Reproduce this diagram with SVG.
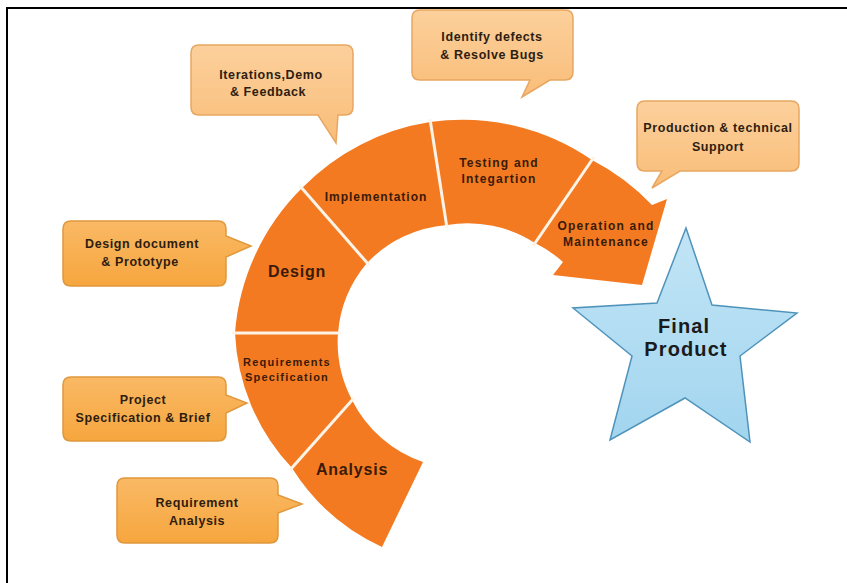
<svg xmlns="http://www.w3.org/2000/svg" width="847" height="583" viewBox="0 0 847 583">
<defs>
<linearGradient id="gLight" x1="0" y1="0" x2="0" y2="1">
<stop offset="0" stop-color="#fcd09c"/><stop offset="1" stop-color="#f9bd78"/>
</linearGradient>
<linearGradient id="gDark" x1="0" y1="0" x2="0" y2="1">
<stop offset="0" stop-color="#fab965"/><stop offset="1" stop-color="#f6a63e"/>
</linearGradient>
<linearGradient id="gStar" x1="0" y1="0" x2="0" y2="1">
<stop offset="0" stop-color="#c2e5f6"/><stop offset="1" stop-color="#a2d5ef"/>
</linearGradient>
<style>
.light{fill:url(#gLight);stroke:#e8a660;stroke-width:1.5}
.dark{fill:url(#gDark);stroke:#e0983c;stroke-width:1.5}
.seg{fill:#f37a21}
.div{stroke:#fdf3e6;stroke-width:3;fill:none}
.ct{font-family:"Liberation Sans",Arial,sans-serif;font-weight:bold;font-size:12.5px;letter-spacing:0.6px;fill:#2e1d10;text-anchor:middle}
.st{font-family:"Liberation Sans",Arial,sans-serif;font-weight:bold;font-size:12px;letter-spacing:1.2px;fill:#3a1a08;text-anchor:middle}
.sb{font-family:"Liberation Sans",Arial,sans-serif;font-weight:bold;font-size:16px;letter-spacing:0.8px;fill:#3a1a08;text-anchor:middle}
.fp{font-family:"Liberation Sans",Arial,sans-serif;font-weight:bold;font-size:20px;letter-spacing:1.1px;fill:#1a1a1a;text-anchor:middle}
</style>
</defs>
<rect width="847" height="583" fill="#ffffff"/>
<g id="frame">
<line x1="6" y1="8" x2="847" y2="8" stroke="#000" stroke-width="2"/>
<line x1="7" y1="8" x2="7" y2="583" stroke="#000" stroke-width="2"/>
</g>

<g id="analysis">
<path class="seg" d="M382,547 A210,210 0 0 1 292,468 L352,400 A124,124 0 0 0 423,462 Z"/>
<text class="sb" x="352" y="475">Analysis</text>
</g>
<g id="requirements-specification">
<path class="seg" d="M292,468 A210,210 0 0 1 235,333 L338,333 A124,124 0 0 0 352,400 Z"/>
<text class="st" x="287" y="366" style="font-size:11px">Requirements</text>
<text class="st" x="287" y="381" style="font-size:11px">Specification</text>
</g>
<g id="design">
<path class="seg" d="M235,333 A228,228 0 0 1 302,188 L367,263 A124,124 0 0 0 338,333 Z"/>
<text class="sb" x="297" y="277">Design</text>
</g>
<g id="implementation">
<path class="seg" d="M302,188 A228,228 0 0 1 430,122 L447,225 A124,124 0 0 0 367,263 Z"/>
<text class="st" x="376" y="201" style="letter-spacing:1px">Implementation</text>
</g>
<g id="testing">
<path class="seg" d="M430,122 A228,228 0 0 1 592,160 L535,243 A124,124 0 0 0 447,225 Z"/>
<text class="st" x="499" y="167">Testing and</text>
<text class="st" x="499" y="183">Integartion</text>
</g>
<g id="operation">
<path class="seg" d="M592,160 A228,228 0 0 1 652,205 L667,199 L642,285 L553,275 L563,262 A124,124 0 0 0 535,243 Z"/>
<text class="st" x="606" y="230">Operation and</text>
<text class="st" x="606" y="246">Maintenance</text>
</g>

<g id="connectors">
<line class="div" x1="290" y1="470" x2="354" y2="398"/>
<line class="div" x1="232" y1="333" x2="341" y2="333"/>
<line class="div" x1="300" y1="186" x2="369" y2="265"/>
<line class="div" x1="430" y1="119" x2="447" y2="228"/>
<line class="div" x1="594" y1="157" x2="533" y2="246"/>
</g>

<g id="final-product">
<polygon points="686,228 712,305 797,313 740,356 750,442 685,398 610,440 632,356 573,308 657,303" fill="url(#gStar)" stroke="#4f93bb" stroke-width="1.5" stroke-linejoin="miter"/>
<text class="fp" x="684" y="333">Final</text>
<text class="fp" x="686" y="356">Product</text>
</g>

<g id="callout-identify">
<path class="light" d="M420,10 H565 Q573,10 573,18 V72 Q573,80 565,80 H550 L522,97 L530,80 H420 Q412,80 412,72 V18 Q412,10 420,10 Z"/>
<text class="ct" x="492" y="41">Identify defects</text>
<text class="ct" x="492" y="59">&amp; Resolve Bugs</text>
</g>
<g id="callout-iterations">
<path class="light" d="M199,45 H345 Q353,45 353,53 V107 Q353,115 345,115 H338 L336,143 L318,115 H199 Q191,115 191,107 V53 Q191,45 199,45 Z"/>
<text class="ct" x="271" y="79">Iterations,Demo</text>
<text class="ct" x="268" y="96">&amp; Feedback</text>
</g>
<g id="callout-production">
<path class="light" d="M645,101 H791 Q799,101 799,109 V163 Q799,171 791,171 H680 L652,188 L662,171 H645 Q637,171 637,163 V109 Q637,101 645,101 Z"/>
<text class="ct" x="718" y="132">Production &amp; technical</text>
<text class="ct" x="718" y="151">Support</text>
</g>
<g id="callout-design-doc">
<path class="dark" d="M71,221 H218 Q226,221 226,229 V236 L251,246 L226,257 V278 Q226,286 218,286 H71 Q63,286 63,278 V229 Q63,221 71,221 Z"/>
<text class="ct" x="142" y="248">Design document</text>
<text class="ct" x="140" y="266">&amp; Prototype</text>
</g>
<g id="callout-project">
<path class="dark" d="M71,377 H218 Q226,377 226,385 V395 L247,403 L226,413 V433 Q226,441 218,441 H71 Q63,441 63,433 V385 Q63,377 71,377 Z"/>
<text class="ct" x="143" y="404">Project</text>
<text class="ct" x="143" y="422">Specification &amp; Brief</text>
</g>
<g id="callout-requirement">
<path class="dark" d="M125,478 H270 Q278,478 278,486 V495 L302,504 L278,513 V535 Q278,543 270,543 H125 Q117,543 117,535 V486 Q117,478 125,478 Z"/>
<text class="ct" x="197" y="507">Requirement</text>
<text class="ct" x="197" y="525">Analysis</text>
</g>
</svg>
